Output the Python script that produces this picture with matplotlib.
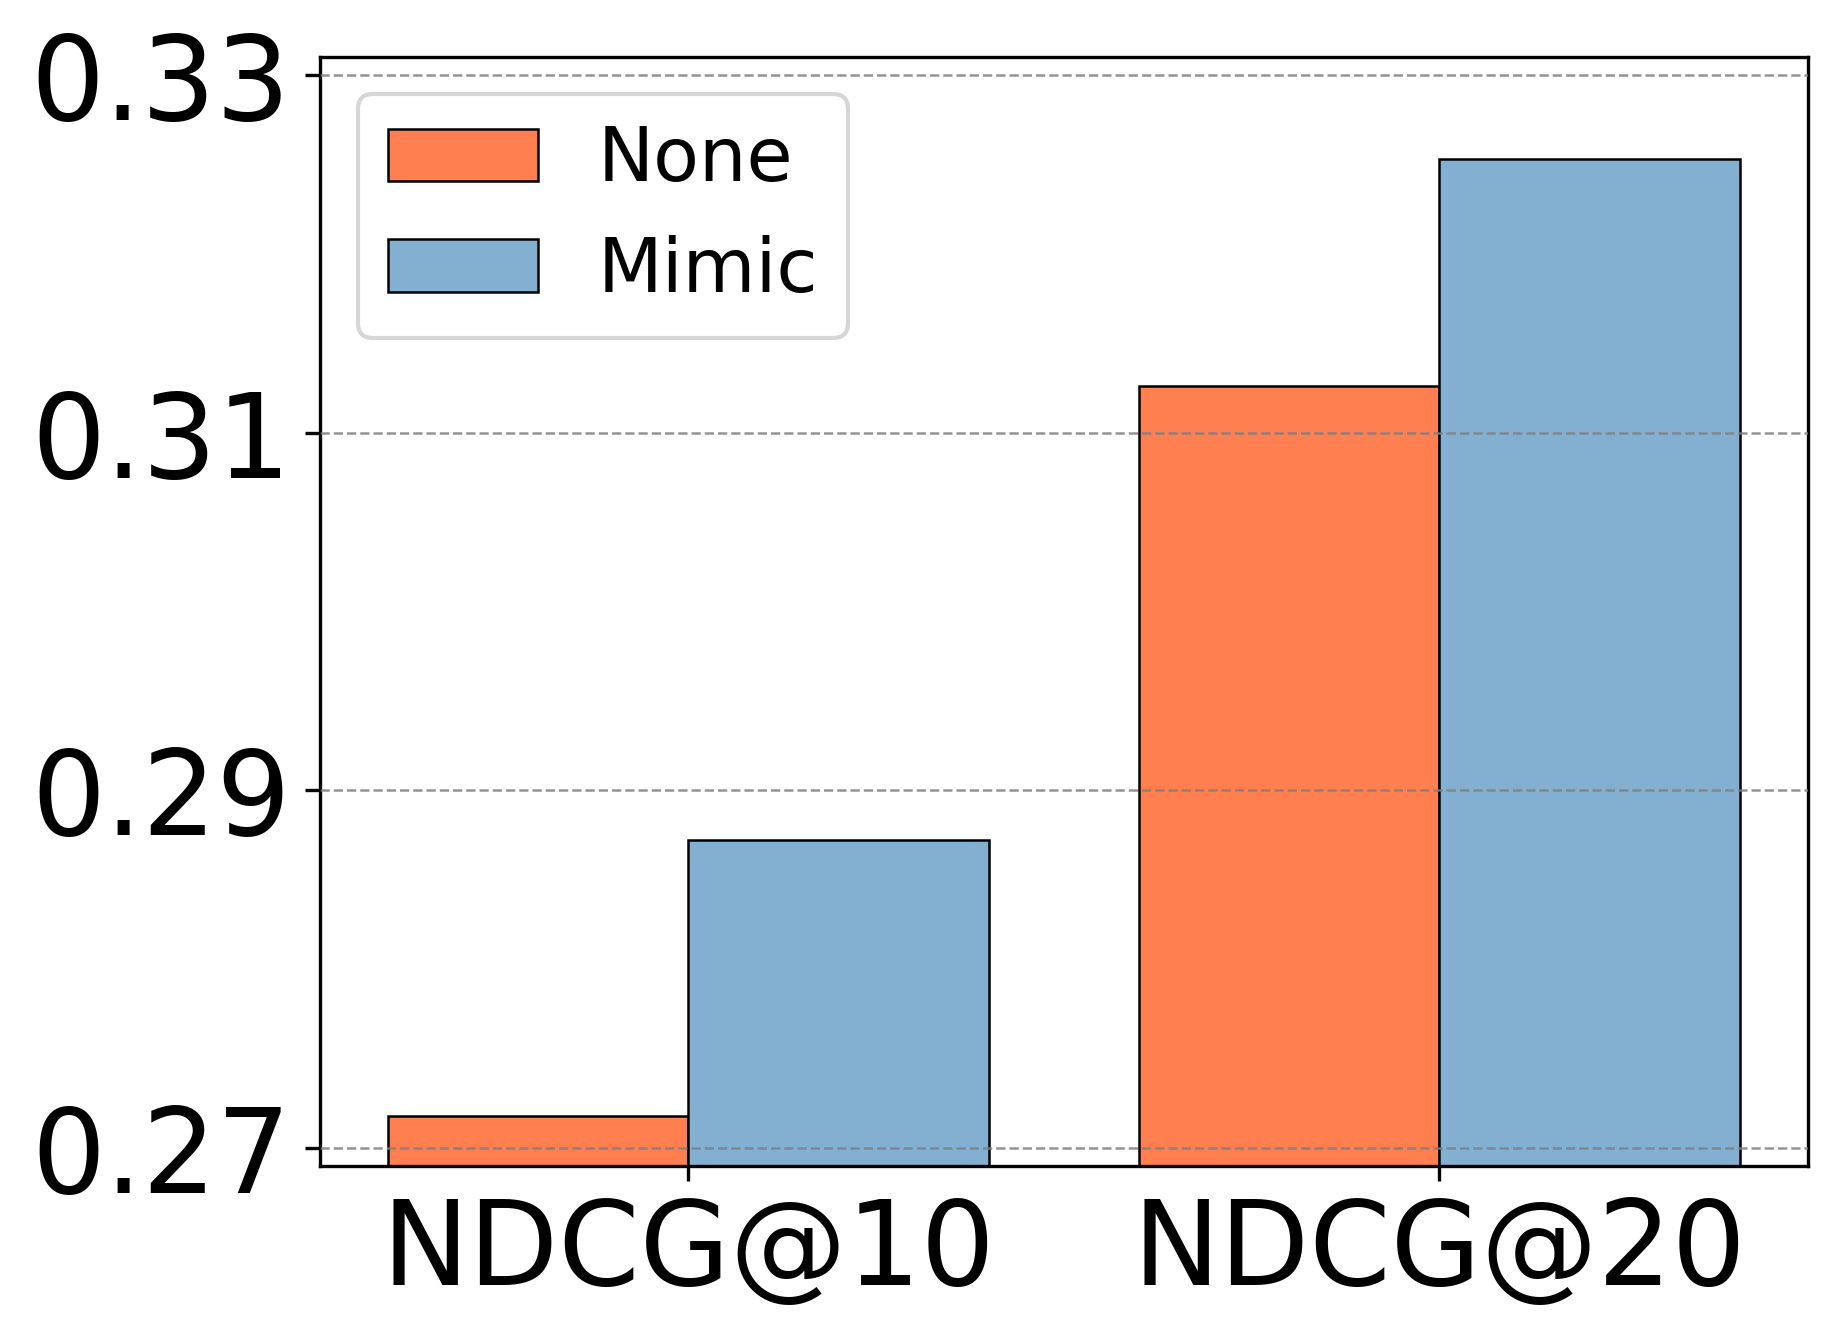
import numpy as np
import matplotlib.pyplot as plt

# data
metrics = ['NDCG@10', 'NDCG@20']
none_vals = [0.2718, 0.3126]
mimic_vals = [0.2872, 0.3253]
yticks = [0.27, 0.29, 0.31, 0.33]

fig = plt.figure(figsize=(1837/300, 1340/300), dpi=300)
ax = fig.add_axes([0.1742, 0.1298, 0.984-0.1742, 0.9575-0.1298])

x = np.arange(len(metrics))
w = 0.4
ax.bar(x - w/2, none_vals, w, color='#FF7F50', edgecolor='black', linewidth=0.6, label='None', zorder=1)
ax.bar(x + w/2, mimic_vals, w, color='#83AFD1', edgecolor='black', linewidth=0.6, label='Mimic', zorder=1)

ax.set_ylim(0.269, 0.331)
ax.set_yticks(yticks)
ax.set_yticklabels(['0.27', '0.29', '0.31', '0.33'])
ax.set_xticks(x)
ax.set_xticklabels(metrics)
ax.tick_params(axis='both', labelsize=28)
ax.yaxis.grid(True, linestyle='--', color='gray', alpha=0.85, linewidth=0.6, zorder=3)
ax.set_axisbelow(False)

ax.legend(loc='upper left', fontsize=18)

fig.savefig('out.png', dpi=300)
